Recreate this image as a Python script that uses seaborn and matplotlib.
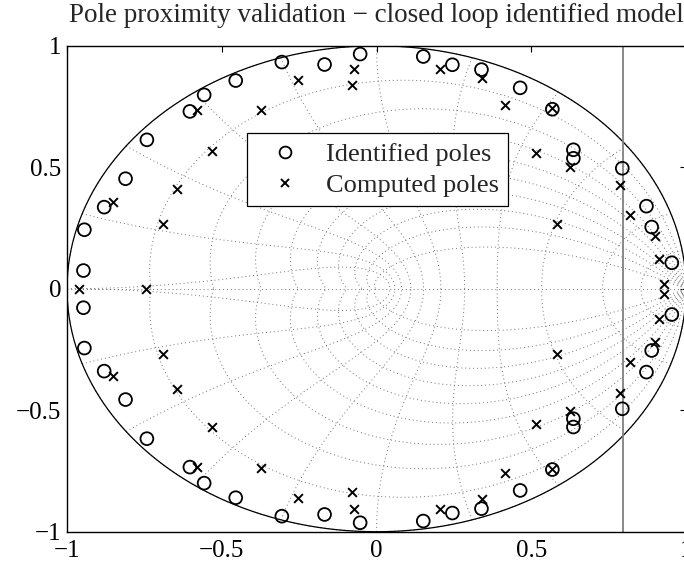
import numpy as np
import pandas as pd
import seaborn as sns
import matplotlib.pyplot as plt
from matplotlib.lines import Line2D

# identified poles (circles)
ident_re = [-0.947, -0.944, -0.880, -0.811, -0.742, -0.603, -0.557, -0.455, -0.306, -0.168,
            -0.053, 0.151, 0.245, 0.339, 0.464, 0.568, 0.636, 0.636, 0.794, 0.872, 0.889, 0.954,
            -0.947, -0.944, -0.880, -0.811, -0.742, -0.603, -0.557, -0.455, -0.306, -0.168,
            -0.053, 0.151, 0.245, 0.339, 0.464, 0.568, 0.636, 0.636, 0.794, 0.872, 0.889, 0.954]
ident_im = [0.075, 0.243, 0.336, 0.453, 0.613, 0.730, 0.798, 0.857, 0.933, 0.923,
            0.966, 0.956, 0.922, 0.902, 0.827, 0.739, 0.572, 0.537, 0.496, 0.340, 0.254, 0.107,
            -0.078, -0.244, -0.339, -0.456, -0.617, -0.734, -0.800, -0.860, -0.936, -0.929,
            -0.963, -0.956, -0.923, -0.905, -0.830, -0.744, -0.569, -0.535, -0.494, -0.343, -0.254, -0.106]

# computed poles (crosses)
comp_re = [-0.961, -0.746,
           -0.850, -0.691, -0.645, -0.532, -0.581, -0.373, -0.255, -0.073, -0.079, 0.205,
           0.342, 0.415, 0.566, 0.514, 0.625, 0.584, 0.787, 0.818, 0.900, 0.913, 0.929,
           -0.850, -0.691, -0.645, -0.532, -0.581, -0.373, -0.255, -0.073, -0.079, 0.205,
           0.342, 0.415, 0.566, 0.514, 0.625, 0.584, 0.787, 0.818, 0.900, 0.913, 0.929]
comp_im = [0.0, 0.0,
           0.356, 0.267, 0.409, 0.569, 0.734, 0.734, 0.860, 0.905, 0.840, 0.905,
           0.867, 0.757, 0.743, 0.558, 0.503, 0.267, 0.428, 0.302, 0.219, 0.123, 0.018,
           -0.357, -0.268, -0.412, -0.569, -0.734, -0.738, -0.862, -0.905, -0.837, -0.905,
           -0.867, -0.757, -0.743, -0.558, -0.503, -0.267, -0.428, -0.302, -0.219, -0.123, -0.020]

limit_x = 0.797
title = 'Pole proximity validation \u2212 closed loop identified model'

sns.set_theme(style='white')
plt.rcParams['font.family'] = ['Liberation Serif', 'DejaVu Serif']
plt.rcParams['axes.unicode_minus'] = True

fig = plt.figure(figsize=(6.84, 5.69), dpi=100)
ax = fig.add_axes([0.098, 0.0655, 0.905, 0.854])

# z-plane grid (damping and natural frequency curves)
gc = dict(color='0.45', ls=(0, (1, 3)), lw=0.7, zorder=1)
w = np.linspace(0, np.pi, 200)
for z in np.arange(0, 1.0, 0.1):
    m = np.tan(np.arcsin(z))
    zz = np.exp(-m * w + 1j * w)
    ax.plot(zz.real, zz.imag, **gc)
    ax.plot(zz.real, -zz.imag, **gc)
th = np.linspace(np.pi / 2, np.pi, 100)
for wn in np.r_[0.05, np.arange(1, 11) / 10.0] * np.pi:
    zz = np.exp(wn * np.exp(1j * th))
    ax.plot(zz.real, zz.imag, **gc)
    ax.plot(zz.real, -zz.imag, **gc)
ax.plot([-1, 1], [0, 0], **gc)

t = np.linspace(0, 2 * np.pi, 400)
ax.plot(np.cos(t), np.sin(t), color='black', lw=0.9, zorder=2)
ax.axvline(limit_x, color='0.5', lw=1.3, zorder=2)

df_i = pd.DataFrame({'re': ident_re, 'im': ident_im})
df_c = pd.DataFrame({'re': comp_re, 'im': comp_im})
sns.scatterplot(data=df_i, x='re', y='im', ax=ax, marker='o', s=85,
                facecolor='none', edgecolor='black', linewidth=1.3, zorder=3)
sns.scatterplot(data=df_c, x='re', y='im', ax=ax, marker='x', s=40,
                color='black', linewidth=1.4, zorder=4)

ax.set_xlim(-1, 1)
ax.set_ylim(-1, 1)
ax.set_xlabel('')
ax.set_ylabel('')
ax.set_xticks([-1, -0.5, 0, 0.5, 1])
ax.set_yticks([-1, -0.5, 0, 0.5, 1])
ax.set_xticklabels(['\u22121', '\u22120.5', '0', '0.5', '1'])
ax.set_yticklabels(['\u22121', '\u22120.5', '0', '0.5', '1'])
ax.tick_params(direction='in', length=4, width=0.8, top=True, right=True,
               labelsize=18, pad=4, colors='black')
ax.tick_params(axis='x', pad=6)
for sp in ax.spines.values():
    sp.set_color('black')
    sp.set_linewidth(1.0)
ax.set_title(title, fontsize=19.5, pad=17)

handles = [Line2D([], [], ls='none', marker='o', mfc='none', mec='black', ms=8.5, mew=1.3),
           Line2D([], [], ls='none', marker='x', color='black', ms=6, mew=1.4)]
leg = ax.legend(handles, ['Identified poles', 'Computed poles'], loc='upper left',
                bbox_to_anchor=(0.361, 0.766), bbox_transform=fig.transFigure,
                fontsize=19, frameon=True, fancybox=False, framealpha=1,
                edgecolor='black', borderpad=0.35, handletextpad=0.45,
                labelspacing=0.3, handlelength=2.2, borderaxespad=0)
leg.get_frame().set_linewidth(0.9)

fig.savefig('out.png', dpi=100)
